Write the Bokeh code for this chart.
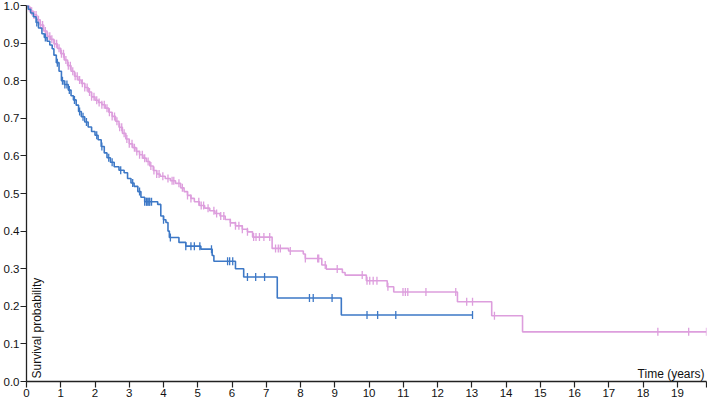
import numpy as np
from math import pi
from bokeh.plotting import figure
from bokeh.models import FixedTicker, PrintfTickFormatter, Label, Range1d
from bokeh.embed import file_html
from bokeh.resources import INLINE

# ---- data ----
x_end = 19.85

pink_times = [0.05, 0.12, 0.2, 0.3, 0.4, 0.5, 0.6, 0.7, 0.8, 0.9, 1.0, 1.1, 1.2, 1.3, 1.4,
              1.5, 1.6, 1.7, 1.8, 1.9, 2.0, 2.1, 2.2, 2.3, 2.4, 2.5, 2.6, 2.7, 2.8, 2.9,
              3.0, 3.1, 3.2, 3.3, 3.4, 3.5, 3.6, 3.7, 3.8, 3.9, 4.05, 4.2, 4.35, 4.5, 4.6,
              4.7, 4.8, 4.9, 5.05, 5.2, 5.35, 5.5, 5.65, 5.8, 5.95, 6.1, 6.3, 6.45, 6.6,
              7.17, 7.65, 8.08, 8.14, 8.62, 8.75, 9.22, 9.3, 9.92, 10.53, 10.72, 12.58,
              13.58, 14.48]
pink_surv = [0.995, 0.985, 0.975, 0.962, 0.948, 0.932, 0.918, 0.91, 0.898, 0.886, 0.872,
             0.855, 0.84, 0.825, 0.812, 0.802, 0.793, 0.782, 0.77, 0.757, 0.748, 0.742,
             0.736, 0.727, 0.716, 0.705, 0.692, 0.676, 0.66, 0.645, 0.632, 0.622, 0.612,
             0.603, 0.594, 0.585, 0.573, 0.561, 0.552, 0.546, 0.54, 0.534, 0.527, 0.515,
             0.505, 0.495, 0.487, 0.478, 0.468, 0.461, 0.454, 0.447, 0.44, 0.431, 0.422,
             0.414, 0.405, 0.398, 0.384, 0.354, 0.347, 0.339, 0.327, 0.31, 0.299, 0.29,
             0.283, 0.268, 0.252, 0.238, 0.212, 0.175, 0.132]
pink_censor = [0.08, 0.15, 0.22, 0.28, 0.35, 0.41, 0.47, 0.55, 0.62, 0.68, 0.74, 0.82, 0.88,
               0.95, 1.02, 1.08, 1.15, 1.22, 1.28, 1.35, 1.42, 1.48, 1.55, 1.63, 1.7, 1.77,
               1.84, 1.9, 1.97, 2.05, 2.12, 2.2, 2.27, 2.35, 2.42, 2.5, 2.57, 2.64, 2.72,
               2.78, 2.85, 2.93, 3.0, 3.08, 3.15, 3.22, 3.3, 3.38, 3.45, 3.55, 3.63, 3.72,
               3.8, 3.87, 3.98, 4.13, 4.25, 4.3, 4.45, 4.55, 4.7, 4.8, 5.03, 5.1, 5.17, 5.3,
               5.47, 5.55, 5.67, 5.76, 5.95, 6.1, 6.2, 6.3, 6.45, 6.63, 6.7, 6.8, 6.93, 7.1,
               7.27, 7.35, 7.41, 7.7, 8.14, 8.5, 8.53, 8.72, 9.07, 9.8, 9.94, 10.02, 10.12,
               10.23, 10.55, 10.99, 11.06, 11.13, 11.66, 12.53, 12.85, 13.02, 13.66, 18.43,
               19.33, 19.85]

blue_times = [0.05, 0.12, 0.2, 0.28, 0.35, 0.45, 0.52, 0.6, 0.68, 0.75, 0.8, 0.87, 0.95,
              1.02, 1.1, 1.22, 1.3, 1.37, 1.45, 1.52, 1.6, 1.7, 1.8, 1.9, 2.0, 2.09, 2.18,
              2.27, 2.35, 2.45, 2.56, 2.7, 2.85, 2.95, 3.05, 3.14, 3.25, 3.34, 3.45, 3.83,
              3.92, 4.0, 4.07, 4.13, 4.17, 4.45, 4.65, 5.09, 5.42, 5.47, 6.1, 6.34, 7.32,
              9.19]
blue_surv = [0.99, 0.98, 0.97, 0.955, 0.94, 0.925, 0.915, 0.905, 0.895, 0.885, 0.868, 0.848,
             0.825, 0.8, 0.79, 0.775, 0.76, 0.749, 0.735, 0.718, 0.704, 0.69, 0.677, 0.665,
             0.655, 0.643, 0.625, 0.608, 0.595, 0.583, 0.571, 0.562, 0.555, 0.54, 0.528,
             0.519, 0.505, 0.49, 0.478, 0.471, 0.44, 0.43, 0.423, 0.4, 0.383, 0.37, 0.36,
             0.352, 0.335, 0.32, 0.3, 0.278, 0.222, 0.177]
blue_end = 13.02
blue_censor = [0.3, 0.55, 0.9, 1.05, 1.12, 1.18, 1.25, 1.4, 1.55, 1.65, 1.75, 2.05, 2.2, 2.4,
               2.5, 2.75, 3.1, 3.3, 3.45, 3.5, 3.52, 3.55, 3.58, 3.6, 3.65, 4.0, 4.2, 4.65,
               4.8, 4.9, 5.06, 5.4, 5.87, 5.93, 6.02, 6.45, 6.69, 6.95, 8.26, 8.37, 8.92,
               9.94, 10.25, 10.78, 13.02]

x_ticks = list(range(0, 20))
y_ticks = [0.0, 0.1, 0.2, 0.3, 0.4, 0.5, 0.6, 0.7, 0.8, 0.9, 1.0]

PINK = "#dd9edd"
BLUE = "#3d78c6"
FONT = "Liberation Sans"

p = figure(frame_width=680, frame_height=376, output_backend="svg", toolbar_location=None,
           x_range=Range1d(0, x_end), y_range=Range1d(0, 1.0),
           min_border_top=5, min_border_right=1, min_border_left=0, min_border_bottom=0)
p.outline_line_color = None
p.xgrid.visible = False
p.ygrid.visible = False
p.background_fill_color = "white"

for ax in (p.xaxis[0], p.yaxis[0]):
    ax.axis_line_color = "#222222"
    ax.axis_line_width = 1.3
    ax.major_tick_line_color = "#222222"
    ax.major_tick_line_width = 1.2
    ax.major_tick_out = 6
    ax.major_tick_in = 0
    ax.minor_tick_line_color = None
    ax.major_label_text_font = FONT
    ax.major_label_text_font_size = "11.5px"
    ax.major_label_text_color = "#111111"
    ax.major_label_standoff = 1

p.xaxis.ticker = FixedTicker(ticks=x_ticks + [x_end])
p.xaxis.major_label_overrides = {x_end: ""}
p.yaxis.ticker = FixedTicker(ticks=y_ticks)
p.yaxis.formatter = PrintfTickFormatter(format="%.1f")


def curve(times, surv, end):
    xs = [0.0] + list(times) + [end]
    ys = [1.0] + list(surv) + [surv[-1]]
    return np.array(xs), np.array(ys)


def censor_y(ctimes, xs, ys):
    idx = np.searchsorted(xs, np.array(ctimes), side="right") - 1
    return ys[np.clip(idx, 0, len(ys) - 1)]


px, py = curve(pink_times, pink_surv, x_end)
bx, by = curve(blue_times, blue_surv, blue_end)

p.step(px, py, mode="after", line_color=PINK, line_width=1.6)
p.scatter(pink_censor, censor_y(pink_censor, px, py), marker="dash", angle=pi / 2,
          size=8, line_color=PINK, line_width=1.3)

p.step(bx, by, mode="after", line_color=BLUE, line_width=1.6)
p.scatter(blue_censor, censor_y(blue_censor, bx, by), marker="dash", angle=pi / 2,
          size=8, line_color=BLUE, line_width=1.3)

p.add_layout(Label(x=0, y=0, x_offset=3, y_offset=3, angle=pi / 2,
                   text="Survival probability", text_font=FONT, text_font_size="12px",
                   text_color="#111111", text_align="left", text_baseline="top"))
p.add_layout(Label(x=x_end, y=0, x_offset=-2, y_offset=1,
                   text="Time (years)", text_font=FONT, text_font_size="12px",
                   text_color="#111111", text_align="right", text_baseline="bottom"))

open("out.html", "w").write(file_html(p, INLINE))
